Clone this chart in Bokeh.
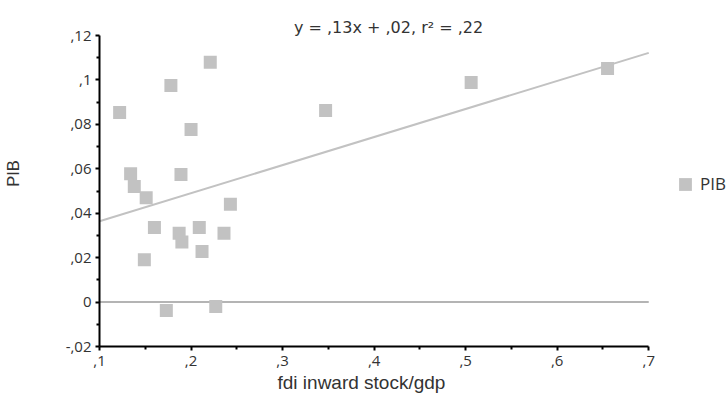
import numpy as np
from bokeh.plotting import figure
from bokeh.models import (ColumnDataSource, FixedTicker, Label, Legend, LegendItem, Range1d, Title)
from bokeh.embed import file_html
from bokeh.resources import INLINE

# ---- data ----
fdi = [0.122, 0.134, 0.138, 0.151, 0.160, 0.149, 0.178, 0.200, 0.189, 0.221,
       0.187, 0.190, 0.209, 0.212, 0.243, 0.236, 0.173, 0.227, 0.347, 0.506, 0.655]
pib = [0.0853, 0.0578, 0.0520, 0.0470, 0.0336, 0.0190, 0.0975, 0.0777, 0.0574, 0.1080,
       0.0310, 0.0270, 0.0336, 0.0228, 0.0440, 0.0310, -0.0038, -0.0020, 0.0862, 0.0988, 0.1051]

x_ticks = [0.1, 0.2, 0.3, 0.4, 0.5, 0.6, 0.7]
x_tick_labels = [",1", ",2", ",3", ",4", ",5", ",6", ",7"]
x_minor = [0.15, 0.25, 0.35, 0.45, 0.55, 0.65]
y_ticks = [-0.02, 0.0, 0.02, 0.04, 0.06, 0.08, 0.10, 0.12]
y_tick_labels = ["-,02", "0", ",02", ",04", ",06", ",08", ",1", ",12"]
y_minor = [-0.01, 0.01, 0.03, 0.05, 0.07, 0.09, 0.11]

title_text = "y = ,13x + ,02, r² = ,22"
x_label = "fdi inward stock/gdp"
y_label = "PIB"
series_name = "PIB"

# regression line from data
slope, intercept = np.polyfit(fdi, pib, 1)
x0, x1 = x_ticks[0], x_ticks[-1]
y0, y1 = y_ticks[0], y_ticks[-1]
line_x = [x0, x1]
line_y = [intercept + slope * v for v in line_x]

GRAY = "#c2c2c2"
TXT = "#333333"

# frame is extended to the right/top so that title & legend live inside it;
# axes are bounded to the data ranges
p = figure(width=726, height=399, output_backend="svg", toolbar_location=None,
           x_range=Range1d(x0, x0 + (x1 - x0) * 629 / 551),
           y_range=Range1d(y0, y0 + (y1 - y0) * 346 / 311),
           min_border_left=97, min_border_right=0, min_border_top=0, min_border_bottom=53)
p.outline_line_color = None
p.xgrid.visible = False
p.ygrid.visible = False

p.line([x0, x1], [0, 0], line_color="#b4b4b4", line_width=2)
p.line(line_x, line_y, line_color=GRAY, line_width=2)

src = ColumnDataSource(dict(x=fdi, y=pib))
r = p.scatter("x", "y", source=src, marker="square", size=13,
              fill_color=GRAY, line_color=None)
# legend swatch only (no drawable geometry)
nan = float("nan")
swatch = p.quad(left=[nan], right=[nan], top=[nan], bottom=[nan],
                fill_color=GRAY, line_color=None)

for ax, ticks, labels, minor in ((p.xaxis[0], x_ticks, x_tick_labels, x_minor),
                                 (p.yaxis[0], y_ticks, y_tick_labels, y_minor)):
    ax.ticker = FixedTicker(ticks=ticks, minor_ticks=minor)
    ax.bounds = (ticks[0], ticks[-1])
    ax.major_label_overrides = {t: l for t, l in zip(ticks, labels)}
    ax.axis_line_color = "black"
    ax.axis_line_width = 2
    ax.major_tick_line_color = "black"
    ax.minor_tick_line_color = "black"
    ax.major_tick_line_width = 2
    ax.minor_tick_line_width = 2
    ax.major_tick_in = 0
    ax.major_tick_out = 4
    ax.minor_tick_in = 0
    ax.minor_tick_out = 3
    ax.major_label_text_font = "Open Sans"
    ax.major_label_text_font_size = "15px"
    ax.major_label_text_color = TXT
    ax.axis_label_text_font = "Liberation Sans"
    ax.axis_label_text_font_size = "16.5px"
    ax.axis_label_text_font_style = "normal"
    ax.axis_label_text_color = TXT

p.xaxis.major_label_standoff = 5
p.yaxis.major_label_standoff = 4
p.yaxis.axis_label = y_label
p.yaxis.axis_label_standoff = 41

p.add_layout(Title(text=x_label, align="left", offset=178, standoff=3,
                   text_font="Liberation Sans", text_font_size="19px",
                   text_font_style="normal", text_color=TXT), "below")

p.add_layout(Label(x=x0 + (x1 - x0) * 290 / 551, y=y0 + (y1 - y0) * 319 / 311,
                   text=title_text, text_align="center", text_baseline="alphabetic",
                   text_font="DejaVu Sans", text_font_size="16px", text_color=TXT))

legend = Legend(items=[LegendItem(label=series_name, renderers=[swatch])], location=(578, 151),
                border_line_color=None, background_fill_alpha=0, padding=0, margin=0,
                glyph_width=16, glyph_height=16, label_standoff=7, label_height=13,
                label_text_font="Open Sans", label_text_font_size="17px",
                label_text_color=TXT)
p.add_layout(legend, "center")

open("out.html", "w").write(file_html(p, INLINE))
